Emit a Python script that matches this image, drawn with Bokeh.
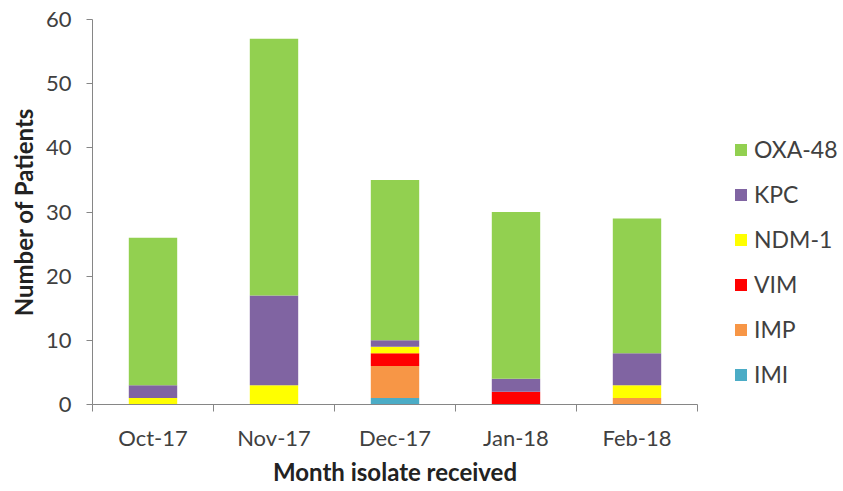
import numpy as np
from bokeh.plotting import figure
from bokeh.models import FixedTicker, Legend, LegendItem, Range1d
from bokeh.embed import file_html
from bokeh.resources import INLINE

months = ["Oct-17", "Nov-17", "Dec-17", "Jan-18", "Feb-18"]
IMI = [0, 0, 1, 0, 0]
IMP = [0, 0, 5, 0, 1]
VIM = [0, 0, 2, 2, 0]
NDM_1 = [1, 3, 1, 0, 2]
KPC = [2, 14, 1, 2, 5]
OXA_48 = [23, 40, 25, 26, 21]

series_names = ["IMI", "IMP", "VIM", "NDM-1", "KPC", "OXA-48"]
series_vals = [IMI, IMP, VIM, NDM_1, KPC, OXA_48]
colors = ["#4BACC6", "#F79646", "#FF0000", "#FFFF00", "#8064A2", "#92D050"]
y_ticks = [0, 10, 20, 30, 40, 50, 60]

FONT = "Lato"

x = np.arange(len(months)) + 0.5
data = {"x": x}
for n, v in zip(series_names, series_vals):
    data[n] = v

p = figure(frame_width=605, frame_height=385, output_backend="svg", toolbar_location=None,
           x_range=Range1d(0, len(months)), y_range=Range1d(0, 60),
           min_border_left=92, min_border_right=130, min_border_top=19, min_border_bottom=71)
p.outline_line_color = None
p.xgrid.visible = False
p.ygrid.visible = False

rs = p.vbar_stack(series_names, x="x", width=0.4, color=colors, line_color=None, source=data)

# x axis
p.xaxis.ticker = FixedTicker(ticks=list(x), minor_ticks=list(range(len(months) + 1)))
p.xaxis.major_label_overrides = {float(xx): m for xx, m in zip(x, months)}
p.xaxis.major_tick_line_color = None
p.xaxis.major_tick_out = 0
p.xaxis.major_tick_in = 0
p.xaxis.minor_tick_line_color = "#868686"
p.xaxis.minor_tick_out = 7
p.xaxis.minor_tick_in = 0
p.xaxis.axis_line_color = "#868686"
p.xaxis.major_label_text_font = FONT
p.xaxis.major_label_text_font_size = "22px"
p.xaxis.major_label_text_color = "#404040"
p.xaxis.major_label_standoff = 12
p.xaxis.axis_label = "Month isolate received"
p.xaxis.axis_label_text_font = FONT
p.xaxis.axis_label_text_font_style = "bold"
p.xaxis.axis_label_text_font_size = "24px"
p.xaxis.axis_label_text_color = "#222222"
p.xaxis.axis_label_standoff = 3

# y axis
p.yaxis.ticker = FixedTicker(ticks=y_ticks, minor_ticks=[])
p.yaxis.axis_line_color = "#868686"
p.yaxis.major_tick_line_color = "#868686"
p.yaxis.major_tick_out = 6
p.yaxis.major_tick_in = 0
p.yaxis.minor_tick_line_color = None
p.yaxis.major_label_text_font = FONT
p.yaxis.major_label_text_font_size = "22px"
p.yaxis.major_label_text_color = "#404040"
p.yaxis.major_label_standoff = 15
p.yaxis.axis_label = "Number of Patients"
p.yaxis.axis_label_text_font = FONT
p.yaxis.axis_label_text_font_style = "bold"
p.yaxis.axis_label_text_font_size = "24px"
p.yaxis.axis_label_text_color = "#222222"
p.yaxis.axis_label_standoff = 5

items = [LegendItem(label=n, renderers=[r]) for n, r in zip(series_names, rs)][::-1]
legend = Legend(items=items, location=(36, 16), orientation="vertical",
                glyph_width=15, glyph_height=15, label_height=27, spacing=17,
                label_standoff=6, padding=0, margin=0,
                border_line_color=None, background_fill_alpha=0,
                label_text_font=FONT, label_text_font_size="23px",
                label_text_color="#404040")
p.add_layout(legend, "right")

open("out.html", "w").write(file_html(p, INLINE))
